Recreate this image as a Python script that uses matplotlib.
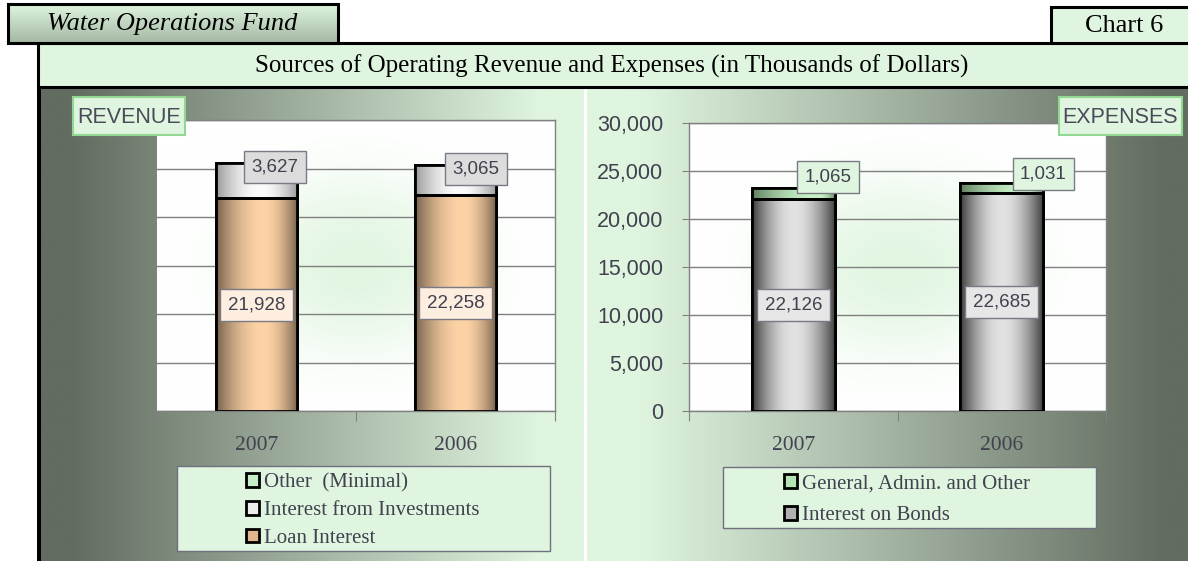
import matplotlib
matplotlib.use("Agg")
import matplotlib.pyplot as plt
import numpy as np
from matplotlib.colors import to_rgb
from matplotlib.patches import Patch, Rectangle

# values in thousands of dollars
YEARS = ["2007", "2006"]
LOAN_INTEREST = [21928, 22258]
INVESTMENT_INTEREST = [3627, 3065]
OTHER_REVENUE = [0, 0]  # "minimal", nothing visible on the chart
BOND_INTEREST = [22126, 22685]
GENERAL_ADMIN = [1065, 1031]
Y_TICKS = [0, 5000, 10000, 15000, 20000, 25000, 30000]

REVENUE_LABELS = ["Other  (Minimal)", "Interest from Investments", "Loan Interest"]
EXPENSE_LABELS = ["General, Admin. and Other", "Interest on Bonds"]

TITLE = "Sources of Operating Revenue and Expenses (in Thousands of Dollars)"
FUND = "Water Operations Fund"
CHART_NO = "Chart 6"

W, H = 1188, 561
SERIF = "Liberation Serif"
SANS = "Liberation Sans"
TEXT = "#41414f"
PALE = "#dff5df"
DARK = "#626c60"
GRID = "#808080"


def blend(c0, c1, t):
    c0 = np.array(to_rgb(c0))
    c1 = np.array(to_rgb(c1))
    t = np.clip(np.asarray(t, dtype=float), 0, 1)[..., None]
    return c0 * (1 - t) + c1 * t


def cylinder(edge, center, peak=0.55, n=80):
    t = np.linspace(0, 1, n)
    s = np.where(t < peak, t / peak, (1 - t) / (1 - peak))
    s = np.sin(s * np.pi / 2) ** 0.9
    return blend(edge, center, s)[None, :, :]


def shade_bars(ax, bars, colors):
    for bar in bars:
        x, y = bar.get_xy()
        w, h = bar.get_width(), bar.get_height()
        if h <= 0:
            continue
        im = ax.imshow(colors, extent=(x, x + w, y, y + h), aspect="auto",
                       interpolation="bilinear", zorder=bar.get_zorder() + 0.1)
        im.set_clip_path(bar)
        ax.add_patch(Rectangle((x, y), w, h, fill=False, ec="black", lw=2,
                               zorder=bar.get_zorder() + 0.2))


def value_label(ax, x, y, value, face, offset=(0, 0)):
    ax.annotate(f"{value:,}", (x, y), xytext=offset, textcoords="offset points",
                ha="center", va="center", fontsize=13.5, family=SANS, color=TEXT,
                zorder=8,
                bbox=dict(boxstyle="square,pad=0.4", fc=face, ec="#7a7a84", lw=1))


def style_axes(ax):
    ax.set_xlim(-0.5, 1.5)
    ax.set_ylim(0, 30000)
    ax.patch.set_visible(False)
    ax.set_yticks(Y_TICKS)
    ax.yaxis.grid(True, color=GRID, lw=1)
    ax.set_axisbelow(True)
    ax.set_xticks([-0.5, 0.5, 1.5])
    ax.set_xticklabels([])
    ax.set_xticks([0, 1], minor=True)
    ax.set_xticklabels(YEARS, minor=True, family=SERIF, fontsize=15.5, color=TEXT)
    ax.tick_params(axis="x", which="major", length=7, color=GRID, direction="out")
    ax.tick_params(axis="x", which="minor", length=0, pad=18)
    for s in ax.spines.values():
        s.set_color(GRID)
        s.set_linewidth(1)


fig = plt.figure(figsize=(W / 100, H / 100), dpi=100)

# ---- background in pixel coordinates
bg = fig.add_axes([0, 0, 1, 1], zorder=-10)
bg.set_xlim(0, W)
bg.set_ylim(H, 0)
bg.axis("off")

xs = np.linspace(38, 584, 300)
bg.imshow(blend(DARK, PALE, (xs - 70) / (540 - 70))[None], extent=(38, 584, H, 87),
          aspect="auto", interpolation="bilinear")
xs = np.linspace(587, W, 300)
bg.imshow(blend(DARK, PALE, (1165 - xs) / (1165 - 640))[None], extent=(587, W, H, 87),
          aspect="auto", interpolation="bilinear")
bg.add_patch(Rectangle((37, 87), 4, H - 87, fc="black", ec="none"))

# plot areas: white with a soft green glow in the middle
for (x0, x1, y0, y1) in [(157, 555, 120, 411), (689, 1106, 123, 411)]:
    gx, gy = np.meshgrid(np.linspace(-1, 1, 120), np.linspace(-1, 1, 80))
    glow = np.exp(-((gx / 0.55) ** 2 + (gy / 0.6) ** 2) ** 1.2)
    bg.imshow(blend("white", PALE, glow * 0.9), extent=(x0, x1, y1, y0),
              aspect="auto", interpolation="bilinear", zorder=1)

# title bar and header boxes
bg.add_patch(Rectangle((38, 43), W, 44, fc=PALE, ec="black", lw=2.2, zorder=2))
bg.text(612, 66, TITLE, ha="center", va="center", family=SERIF, fontsize=18, zorder=3)

shade = blend(PALE, "#a4b8a4", np.linspace(0, 1, 40))[:, None, :]
bg.imshow(shade, extent=(8, 338, 43, 4), aspect="auto", interpolation="bilinear", zorder=2)
bg.add_patch(Rectangle((8, 4), 330, 39, fill=False, ec="black", lw=2.2, zorder=3))
bg.text(47, 24, FUND, ha="left", va="center", family=SERIF, style="italic",
        fontsize=19, zorder=3)

bg.add_patch(Rectangle((1051, 7), 200, 36, fc=PALE, ec="black", lw=2.2, zorder=2))
bg.text(1124, 26, CHART_NO, ha="center", va="center", family=SERIF, fontsize=19, zorder=3)

# legend boxes
bg.add_patch(Rectangle((177, 466), 373, 85, fc=PALE, ec="#6f6f7f", lw=1, zorder=2))
bg.add_patch(Rectangle((723, 467), 373, 61, fc=PALE, ec="#6f6f7f", lw=1, zorder=2))

# ---- revenue
axL = fig.add_axes([157 / W, 1 - 411 / H, 398 / W, 291 / H])
x = np.arange(len(YEARS))
loan = axL.bar(x, LOAN_INTEREST, width=0.41, color="#e8b48a", ec="black", lw=2, zorder=3)
inv = axL.bar(x, INVESTMENT_INTEREST, width=0.41, bottom=LOAN_INTEREST,
              color="#e6e6e6", ec="black", lw=2, zorder=3)
rev_top = np.add(LOAN_INTEREST, INVESTMENT_INTEREST)
axL.bar(x, OTHER_REVENUE, width=0.41, bottom=rev_top, color="#c6eec6", lw=0, zorder=3)
shade_bars(axL, loan, cylinder("#76614c", "#fdd3a6", 0.58))
shade_bars(axL, inv, cylinder("#9a9a9a", "#fbfbfb", 0.55))
style_axes(axL)
axL.tick_params(axis="y", length=0, labelleft=False)
axL.spines["left"].set_visible(False)

inv_offsets = [(13, 10), (15, 8)]
for i in x:
    value_label(axL, i, LOAN_INTEREST[i] / 2, LOAN_INTEREST[i], "#fdeee0")
    value_label(axL, i, LOAN_INTEREST[i] + INVESTMENT_INTEREST[i] / 2,
                INVESTMENT_INTEREST[i], "#dcdcdc", inv_offsets[i])

rev_handles = [Patch(fc="#c6eec6", ec="black", lw=2),
               Patch(fc="#ececec", ec="black", lw=2),
               Patch(fc="#e6b48a", ec="black", lw=2)]
axL.legend(rev_handles, REVENUE_LABELS, loc="upper left",
           bbox_to_anchor=(246 / W, 1 - 473 / H), bbox_transform=fig.transFigure,
           frameon=False, prop={"family": SERIF, "size": 15}, labelcolor=TEXT,
           handlelength=0.62, handleheight=0.62, handletextpad=0.25,
           labelspacing=0.42, borderpad=0, borderaxespad=0)

# ---- expenses
axR = fig.add_axes([689 / W, 1 - 411 / H, 417 / W, 288 / H])
bonds = axR.bar(x, BOND_INTEREST, width=0.40, color="#a8a8a8", ec="black", lw=2, zorder=3)
gen = axR.bar(x, GENERAL_ADMIN, width=0.40, bottom=BOND_INTEREST,
              color="#b4e4b4", ec="black", lw=2, zorder=3)
shade_bars(axR, bonds, cylinder("#3a3a3a", "#e2e2e2", 0.5))
shade_bars(axR, gen, cylinder("#5f7f5f", "#c8f2c8", 0.8))
style_axes(axR)
axR.yaxis.set_major_formatter(matplotlib.ticker.StrMethodFormatter("{x:,.0f}"))
axR.tick_params(axis="y", length=5, color=GRID, direction="out", pad=13.5,
                labelsize=15.5, labelcolor=TEXT)
for t in axR.get_yticklabels():
    t.set_family(SANS)

gen_offsets = [(25, 12), (30, 10)]
for i in x:
    value_label(axR, i, BOND_INTEREST[i] / 2, BOND_INTEREST[i], "#e6e6e6")
    value_label(axR, i, BOND_INTEREST[i] + GENERAL_ADMIN[i] / 2,
                GENERAL_ADMIN[i], "#e0f5e0", gen_offsets[i])

exp_handles = [Patch(fc="#b4e4b4", ec="black", lw=2),
               Patch(fc="#b0b0b0", ec="black", lw=2)]
axR.legend(exp_handles, EXPENSE_LABELS, loc="upper left",
           bbox_to_anchor=(784 / W, 1 - 474 / H), bbox_transform=fig.transFigure,
           frameon=False, prop={"family": SERIF, "size": 15}, labelcolor=TEXT,
           handlelength=0.62, handleheight=0.62, handletextpad=0.25,
           labelspacing=0.62, borderpad=0, borderaxespad=0)

# ---- panel captions sit on top of everything
top = fig.add_axes([0, 0, 1, 1], zorder=10)
top.set_xlim(0, W)
top.set_ylim(H, 0)
top.axis("off")
top.patch.set_visible(False)
top.add_patch(Rectangle((73, 97), 112, 38, fc=PALE, ec="#92d892", lw=1.5))
top.text(129, 117, "REVENUE", ha="center", va="center", family=SANS, fontsize=15.5, color="#4a4a58")
top.add_patch(Rectangle((1059, 97), 123, 38, fc=PALE, ec="#92d892", lw=1.5))
top.text(1120, 117, "EXPENSES", ha="center", va="center", family=SANS, fontsize=15.5, color="#4a4a58")

fig.savefig("out.png", dpi=100)
